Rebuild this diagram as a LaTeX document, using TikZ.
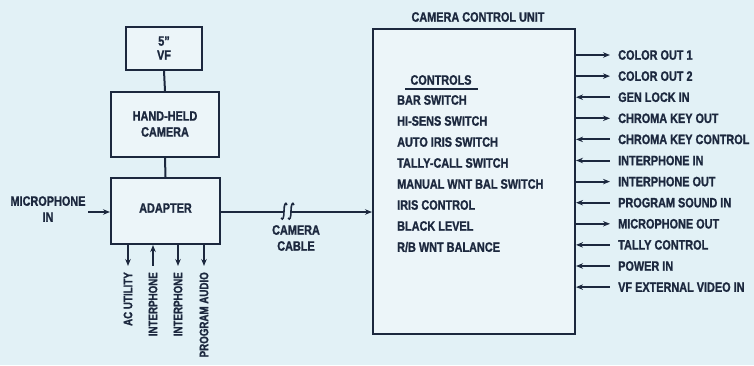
\documentclass[tikz,border=0pt]{standalone}
\usepackage{fontspec}
\setmainfont{Liberation Sans}[FakeStretch=0.8, BoldFeatures={FakeBold=1.2}]
\usetikzlibrary{arrows.meta}
\definecolor{bg}{RGB}{226,241,246}
\definecolor{ink}{RGB}{28,40,62}
\tikzset{
  box/.style={draw=ink, line width=2pt, fill=white, fill opacity=0.35, text opacity=1, inner sep=0pt},
  lbl/.style={text=ink, font=\bfseries\fontsize{13.6}{15}\selectfont, inner sep=0pt},
  vlbl/.style={lbl, font=\bfseries\fontsize{12.2}{14}\selectfont, rotate=90, anchor=east},
  llbl/.style={lbl, align=center},
  wire/.style={draw=ink, line width=2pt},
  tip/.style={-{Stealth[length=7pt,width=5.5pt]}},
  rtip/.style={{Stealth[length=7pt,width=5.5pt]}-},
}
\begin{document}
\begin{tikzpicture}[x=1pt,y=-1pt]
\fill[bg] (0,0) rectangle (754,365);
\useasboundingbox (0,0) rectangle (754,365);

% left chain
\node[box, minimum width=76pt, minimum height=43pt] (vf) at (164,48.5) {};
\node[llbl] (vft) at (164,48) {5"\\[-1pt]VF};
\node[box, minimum width=108pt, minimum height=65pt] (cam) at (165,124.5) {};
\node[llbl] (camt) at (165,124) {HAND-HELD\\[1pt]CAMERA};
\node[box, minimum width=109pt, minimum height=66pt] (adp) at (165.5,211) {};
\node[lbl] (adpt) at (165.5,208) {ADAPTER};
\draw[wire] (vf.south) -- (cam.north);
\draw[wire] (cam.south) -- (adp.north);

% microphone in
\coordinate (mic) at (88,212);
\node[llbl] (mict) at (48,209) {MICROPHONE\\[1pt]IN};
\draw[wire, tip] (mic) -- (adp.west |- mic);

% bottom arrows
\coordinate (a1) at (128,266);
\coordinate (a2) at (153,266);
\coordinate (a3) at (178,266);
\coordinate (a4) at (204,266);
\draw[wire, tip] (adp.south -| a1) -- (a1);
\draw[wire, rtip] (adp.south -| a2) -- (a2);
\draw[wire, tip] (adp.south -| a3) -- (a3);
\draw[wire, tip] (adp.south -| a4) -- (a4);
\node[vlbl] (b1) at (128,272) {AC UTILITY};
\node[vlbl] (b2) at (153,272) {INTERPHONE};
\node[vlbl] (b3) at (178,272) {INTERPHONE};
\node[vlbl] (b4) at (204,272) {PROGRAM AUDIO};

% CCU
\node[box, minimum width=202pt, minimum height=305pt] (ccu) at (474,181.5) {};
\node[lbl] (ccut) at (478,17) {CAMERA CONTROL UNIT};

% camera cable
\coordinate (c1) at (284,212);
\coordinate (c2) at (291,212);
\draw[wire] (adp.east |- c1) -- (c1);
\draw[wire, tip] (c2) -- (ccu.west |- c2);
\draw[draw=ink, line width=1.6pt] (287,205) .. controls (285.5,201) and (284,205) .. (284,211) .. controls (284,217) and (283,221) .. (281,218);
\draw[draw=ink, line width=1.6pt] (294,205) .. controls (292.5,201) and (291,205) .. (291,211) .. controls (291,217) and (290,221) .. (288,218);
\node[llbl] (cct) at (296,238) {CAMERA\\[1pt]CABLE};

% controls list
\node[lbl] (ctl) at (441,80) {CONTROLS};
\draw[draw=ink, line width=1.4pt] (405,89) -- (478,89);
\foreach \t [count=\i from 0] in {BAR SWITCH, HI-SENS SWITCH, AUTO IRIS SWITCH, TALLY-CALL SWITCH, MANUAL WNT BAL SWITCH, IRIS CONTROL, BLACK LEVEL, R/B WNT BALANCE}
  \node[lbl, anchor=west] (k\i) at (397,{100+21*\i}) {\t};

% outputs
\foreach \t/\d [count=\i from 0] in {COLOR OUT 1/o, COLOR OUT 2/o, GEN LOCK IN/i, CHROMA KEY OUT/o, CHROMA KEY CONTROL/i, INTERPHONE IN/i, INTERPHONE OUT/o, PROGRAM SOUND IN/i, MICROPHONE OUT/o, TALLY CONTROL/i, POWER IN/i, VF EXTERNAL VIDEO IN/i}{
  \coordinate (o\i) at (610,{55+21.1*\i});
  \node[lbl, anchor=west] (ot\i) at (618,{55+21.1*\i}) {\t};
  \if\d o
    \draw[wire, tip] (ccu.east |- o\i) -- (o\i);
  \else
    \draw[wire, rtip] (ccu.east |- o\i) -- (o\i);
  \fi
}
\end{tikzpicture}
\end{document}
